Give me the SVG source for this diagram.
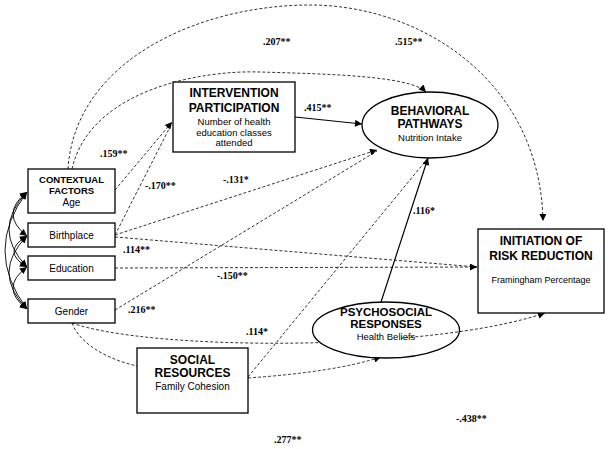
<svg xmlns="http://www.w3.org/2000/svg" xmlns:xlink="http://www.w3.org/1999/xlink" width="611" height="449" viewBox="0 0 611 449">
<style>
.box{fill:#fff;stroke:#000;stroke-width:1.3}
.b{font-family:"Liberation Sans",Arial,sans-serif;font-weight:bold;font-size:12px;text-anchor:middle}
.r{font-family:"Liberation Sans",Arial,sans-serif;font-size:10px;text-anchor:middle}
.lbl{font-family:"Liberation Serif","Times New Roman",serif;font-weight:bold;font-size:10px}
.d{fill:none;stroke:#000;stroke-width:0.8;stroke-dasharray:3,2}
.s{fill:none;stroke:#000;stroke-width:1.2}
.c{fill:none;stroke:#000;stroke-width:0.9}
</style>
<defs>
<marker id="ah" viewBox="0 0 10 10" refX="10" refY="5" markerWidth="9" markerHeight="7" markerUnits="userSpaceOnUse" orient="auto-start-reverse"><path d="M0,0 L10,5 L0,10 z" fill="#000"/></marker>
<clipPath id="hb"><rect x="401" y="320" width="60" height="30"/></clipPath>
</defs>
<rect width="611" height="449" fill="#fff"/>
<g id="connectors">
<path class="c" d="M27,192 Q-1,214 27,236" marker-start="url(#ah)" marker-end="url(#ah)"/>
<path class="c" d="M27,192 Q-9,229.5 27,267" marker-start="url(#ah)" marker-end="url(#ah)"/>
<path class="c" d="M27,192 Q-17,250.5 27,309" marker-start="url(#ah)" marker-end="url(#ah)"/>
<path class="c" d="M27,236 Q1,251.5 27,267" marker-start="url(#ah)" marker-end="url(#ah)"/>
<path class="c" d="M27,236 Q-9,272.5 27,309" marker-start="url(#ah)" marker-end="url(#ah)"/>
<path class="c" d="M27,267 Q-1,288 27,309" marker-start="url(#ah)" marker-end="url(#ah)"/>
<path class="d" d="M68,169 C75,60 200,5 310,5 C420,5 540,80 543,221" marker-end="url(#ah)"/>
<path class="d" d="M72,169 C90,90 200,70 260,72 C330,74 410,76 426,92" marker-end="url(#ah)"/>
<path class="d" d="M115,190 L172,122" marker-end="url(#ah)"/>
<path class="d" d="M115,235 L172,123"/>
<path class="d" d="M115,235 L377,150" marker-end="url(#ah)"/>
<path class="d" d="M115,237 L477,267"/>
<path class="d" d="M115,268 L477,267" marker-end="url(#ah)"/>
<path class="d" d="M115,310 L377,151"/>
<path id="gi" class="d" d="M72,323 C150,351 430,352 545,313" marker-end="url(#ah)"/>
<path class="d" d="M72,323 C80,345 110,360 137,366"/>
<path class="d" d="M248,377 L428,158"/>
<path class="d" d="M248,378 Q335,372 381,357" marker-end="url(#ah)"/>
<path class="s" d="M295,117 L362,124" marker-end="url(#ah)"/>
<path class="s" d="M381,302 L428,158" marker-end="url(#ah)"/>
</g>
<g id="contextual">
<rect class="box" x="28" y="169" width="87" height="44"/>
<text class="b" x="71.5" y="183" style="font-size:9.5px">CONTEXTUAL</text>
<text class="b" x="71.5" y="194" style="font-size:9.5px">FACTORS</text>
<text class="r" x="71.5" y="206">Age</text>
</g>
<g id="birthplace">
<rect class="box" x="28" y="223" width="87" height="24"/>
<text class="r" x="71.5" y="238.5">Birthplace</text>
</g>
<g id="education">
<rect class="box" x="28" y="256" width="87" height="24"/>
<text class="r" x="71.5" y="271.5">Education</text>
</g>
<g id="gender">
<rect class="box" x="28" y="299" width="87" height="24"/>
<text class="r" x="71.5" y="314.5">Gender</text>
</g>
<g id="intervention">
<rect class="box" x="173" y="82" width="122" height="70"/>
<text class="b" x="234" y="97">INTERVENTION</text>
<text class="b" x="234" y="112">PARTICIPATION</text>
<text class="r" x="234" y="125" style="font-size:9.5px">Number of health</text>
<text class="r" x="234" y="136" style="font-size:9.5px">education classes</text>
<text class="r" x="234" y="146" style="font-size:9.5px">attended</text>
</g>
<g id="behavioral">
<ellipse class="box" cx="430" cy="125" rx="68" ry="33"/>
<text class="b" x="430" y="115">BEHAVIORAL</text>
<text class="b" x="430" y="128">PATHWAYS</text>
<text class="r" x="430" y="141" style="font-size:9.5px">Nutrition Intake</text>
</g>
<g id="initiation">
<rect class="box" x="478" y="229" width="126" height="84"/>
<text class="b" x="541" y="245">INITIATION OF</text>
<text class="b" x="541" y="260">RISK REDUCTION</text>
<text class="r" x="541" y="283" style="font-size:9px">Framingham Percentage</text>
</g>
<g id="psychosocial">
<ellipse class="box" cx="386" cy="330" rx="73.5" ry="28"/>
<text class="b" x="386" y="316" style="font-size:11.5px">PSYCHOSOCIAL</text>
<text class="b" x="386" y="328" style="font-size:11.5px">RESPONSES</text>
<text class="r" x="386" y="340" style="font-size:9.5px">Health Beliefs</text>
</g>
<g id="social">
<rect class="box" x="137" y="348" width="111" height="65"/>
<text class="b" x="192.5" y="364">SOCIAL</text>
<text class="b" x="192.5" y="377">RESOURCES</text>
<text class="r" x="192.5" y="390">Family Cohesion</text>
</g>
<g id="connector-overlay">
<path class="d" clip-path="url(#hb)" d="M72,323 C150,351 430,352 545,313"/>
</g>
<g id="labels">
<text class="lbl" x="263" y="45">.207**</text>
<text class="lbl" x="395" y="45">.515**</text>
<text class="lbl" x="304" y="111">.415**</text>
<text class="lbl" x="100" y="157">.159**</text>
<text class="lbl" x="145" y="189">-.170**</text>
<text class="lbl" x="223" y="183">-.131*</text>
<text class="lbl" x="123" y="253">.114**</text>
<text class="lbl" x="217" y="279">-.150**</text>
<text class="lbl" x="128" y="313">.216**</text>
<text class="lbl" x="413" y="214">.116*</text>
<text class="lbl" x="246" y="335">.114*</text>
<text class="lbl" x="456" y="422">-.438**</text>
<text class="lbl" x="274" y="443">.277**</text>
</g>
</svg>
